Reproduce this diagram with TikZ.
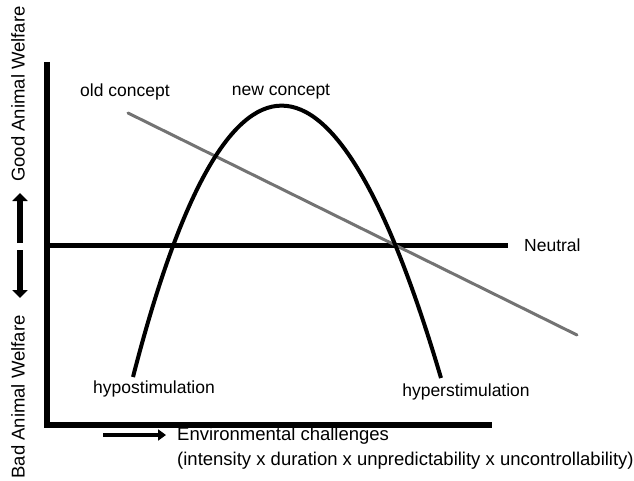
\documentclass[tikz,border=0pt]{standalone}
\usepackage{fontspec}
\setmainfont{Liberation Sans}
\usetikzlibrary{arrows.meta, positioning}

\begin{document}
\begin{tikzpicture}[x=1pt, y=-1pt,
	every node/.style={font=\fontsize{17.5}{25}\selectfont, inner sep=0pt},
	big/.style={font=\fontsize{18.5}{25}\selectfont},
	axis/.style={line width=6pt},
	curve/.style={line width=4pt},
	arr/.style={line width=6pt, -{Triangle[width=15pt, length=8pt]}}]
	\useasboundingbox (0,0) rectangle (634,481);
	% axes
	\coordinate (top) at (47,62);
	\coordinate (o) at (47,425);
	\coordinate (xend) at (492,425);
	\coordinate (mid) at (47,245);
	\coordinate (nend) at (508,245);
	\draw[axis] (top) -- (o) -- (xend);
	\draw[line width=5pt] (mid) -- (nend);
	\node[right=16pt of nend] (neutral) {Neutral};
	% old concept
	\coordinate (o1) at (128,113);
	\coordinate (o2) at (577,335);
	\draw[black!55, line width=3pt, line cap=round] (o1) -- (o2);
	\node (oldc) at (125,92) {old concept};
	% new concept
	\coordinate (lo) at (133,377);
	\coordinate (hi) at (441,378);
	\draw[curve] (lo) .. controls (226,15) and (334,15) .. (hi);
	\node (newc) at (281,92) {new concept};
	\node (hypo) at (154,389) {hypostimulation};
	\node (hyper) at (466,392) {hyperstimulation};
	% y labels
	\node[big, rotate=90] (good) at (18,94) {Good Animal Welfare};
	\node[big, rotate=90] (bad) at (18,397) {Bad Animal Welfare};
	\coordinate (u1) at (20,243);
	\coordinate (u2) at (20,193);
	\coordinate (d1) at (20,250);
	\coordinate (d2) at (20,298);
	\draw[arr] (u1) -- (u2);
	\draw[arr] (d1) -- (d2);
	% x label
	\coordinate (x1) at (103,435);
	\coordinate (x2) at (166,435);
	\draw[line width=4pt, -{Triangle[width=11pt, length=8pt]}] (x1) -- (x2);
	\node[big, anchor=north west, align=left] (envir) at (177,427) {Environmental challenges\\(intensity x duration x unpredictability x uncontrollability)};
\end{tikzpicture}
\end{document}
